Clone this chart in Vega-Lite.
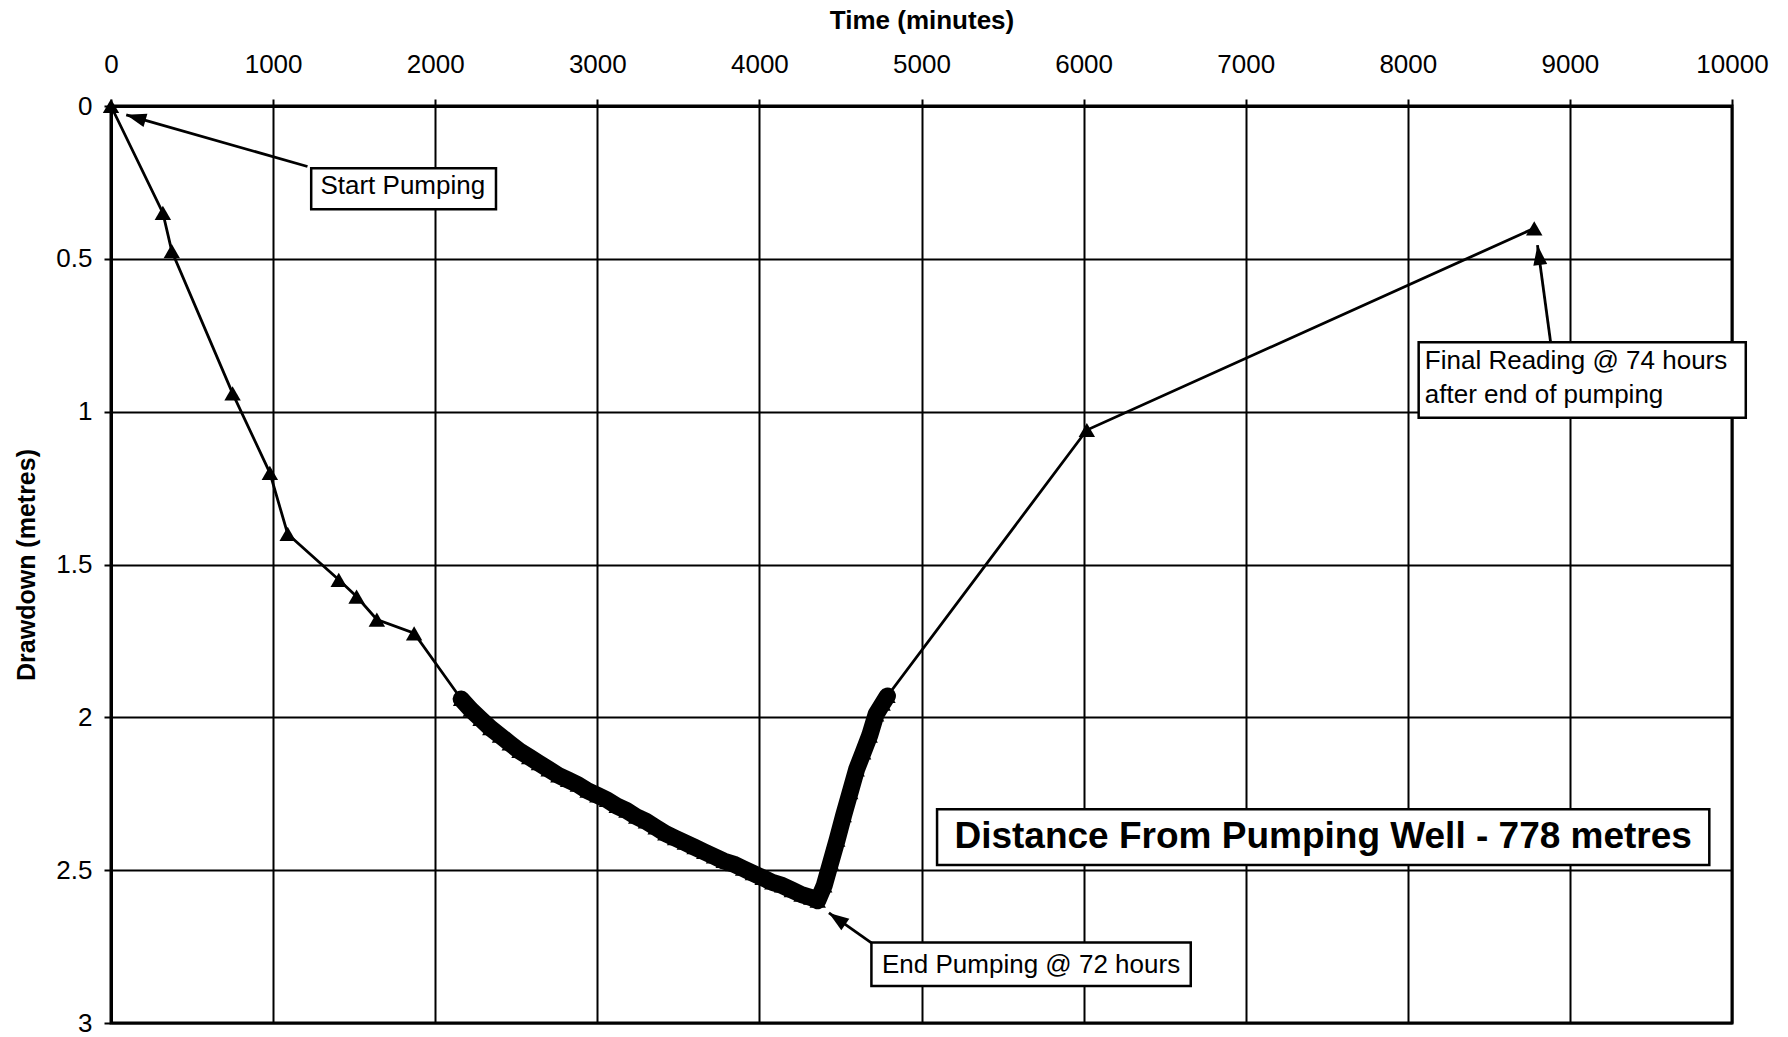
{
  "$schema": "https://vega.github.io/schema/vega-lite/v6.json",
  "width": 1621,
  "height": 917,
  "autosize": {"type": "none"},
  "padding": {"left": 111, "top": 106, "right": 56, "bottom": 14},
  "background": "white",
  "config": {
    "font": "Liberation Sans",
    "view": {"stroke": "black", "strokeWidth": 3},
    "axis": {
      "labelColor": "black",
      "labelFont": "Liberation Sans",
      "labelFontSize": 26,
      "labelFlush": false,
      "tickColor": "black",
      "tickSize": 7,
      "tickWidth": 2,
      "gridColor": "black",
      "gridWidth": 2,
      "gridOpacity": 1,
      "domainColor": "black",
      "domainWidth": 3,
      "titleColor": "black",
      "titleFont": "Liberation Sans",
      "titleFontWeight": "bold"
    }
  },
  "datasets": {
    "drawdown": [
      {"x": 0, "y": 0},
      {"x": 320, "y": 0.35},
      {"x": 375, "y": 0.475},
      {"x": 750, "y": 0.94},
      {"x": 980, "y": 1.2},
      {"x": 1090, "y": 1.4},
      {"x": 1405, "y": 1.55},
      {"x": 1515, "y": 1.605},
      {"x": 1640, "y": 1.68},
      {"x": 1870, "y": 1.725},
      {"x": 2160, "y": 1.94},
      {"x": 2220, "y": 1.975},
      {"x": 2280, "y": 2.005},
      {"x": 2340, "y": 2.035},
      {"x": 2400, "y": 2.06},
      {"x": 2460, "y": 2.085},
      {"x": 2520, "y": 2.11},
      {"x": 2580, "y": 2.13},
      {"x": 2640, "y": 2.15},
      {"x": 2700, "y": 2.17},
      {"x": 2760, "y": 2.19},
      {"x": 2820, "y": 2.205},
      {"x": 2880, "y": 2.22},
      {"x": 2940, "y": 2.24},
      {"x": 3000, "y": 2.255},
      {"x": 3060, "y": 2.27},
      {"x": 3120, "y": 2.29},
      {"x": 3180, "y": 2.305},
      {"x": 3240, "y": 2.325},
      {"x": 3300, "y": 2.34},
      {"x": 3360, "y": 2.36},
      {"x": 3420, "y": 2.38},
      {"x": 3480, "y": 2.395},
      {"x": 3540, "y": 2.41},
      {"x": 3600, "y": 2.425},
      {"x": 3660, "y": 2.44},
      {"x": 3720, "y": 2.455},
      {"x": 3780, "y": 2.47},
      {"x": 3840, "y": 2.48},
      {"x": 3900, "y": 2.495},
      {"x": 3960, "y": 2.51},
      {"x": 4020, "y": 2.525},
      {"x": 4080, "y": 2.54},
      {"x": 4140, "y": 2.55},
      {"x": 4200, "y": 2.565},
      {"x": 4260, "y": 2.58},
      {"x": 4320, "y": 2.59},
      {"x": 4360, "y": 2.6},
      {"x": 4400, "y": 2.55},
      {"x": 4440, "y": 2.475},
      {"x": 4480, "y": 2.4},
      {"x": 4520, "y": 2.32},
      {"x": 4560, "y": 2.245},
      {"x": 4600, "y": 2.17},
      {"x": 4640, "y": 2.115},
      {"x": 4680, "y": 2.06},
      {"x": 4720, "y": 1.99},
      {"x": 4760, "y": 1.955},
      {"x": 4790, "y": 1.93},
      {"x": 6020, "y": 1.06},
      {"x": 8780, "y": 0.4}
    ]
  },
  "layer": [
    {
      "data": {"name": "drawdown"},
      "mark": {"type": "line", "color": "black", "strokeWidth": 2.8},
      "encoding": {
        "x": {
          "field": "x", "type": "quantitative",
          "scale": {"domain": [0, 10000], "nice": false, "zero": false},
          "axis": {"orient": "top", "values": [0,1000,2000,3000,4000,5000,6000,7000,8000,9000,10000], "format": "d", "title": "Time (minutes)", "titleFontSize": 26, "labelPadding": 22, "titlePadding": 18}
        },
        "y": {
          "field": "y", "type": "quantitative",
          "scale": {"domain": [0, 3], "reverse": true, "nice": false, "zero": false},
          "axis": {"orient": "left", "values": [0,0.5,1,1.5,2,2.5,3], "format": "~g", "title": "Drawdown (metres)", "titleFontSize": 25, "labelPadding": 12, "titlePadding": 16}
        },
        "order": {"field": "x", "type": "quantitative"}
      }
    },
    {
      "data": {"name": "drawdown"},
      "transform": [{"filter": "datum.x >= 2160 && datum.x <= 4790"}],
      "mark": {"type": "line", "color": "black", "strokeWidth": 17, "strokeCap": "round", "strokeJoin": "round"},
      "encoding": {
        "x": {"field": "x", "type": "quantitative"},
        "y": {"field": "y", "type": "quantitative"},
        "order": {"field": "x", "type": "quantitative"}
      }
    },
    {
      "data": {"name": "drawdown"},
      "mark": {"type": "point", "shape": "triangle-up", "filled": true, "color": "black", "opacity": 1, "size": 270},
      "encoding": {
        "x": {"field": "x", "type": "quantitative"},
        "y": {"field": "y", "type": "quantitative"}
      }
    },
    {
      "data": {"values": [
        {"x": 1212, "y": 0.198, "x2": 94, "y2": 0.029},
        {"x": 8881, "y": 0.773, "x2": 8800, "y2": 0.455},
        {"x": 4691, "y": 2.738, "x2": 4429, "y2": 2.64}
      ]},
      "mark": {"type": "rule", "color": "black", "strokeWidth": 2.8},
      "encoding": {
        "x": {"field": "x", "type": "quantitative"},
        "y": {"field": "y", "type": "quantitative"},
        "x2": {"field": "x2"},
        "y2": {"field": "y2"}
      }
    },
    {
      "data": {"values": [{"x": 94, "y": 0.029}]},
      "mark": {"type": "point", "shape": "M0,0L-0.7,2L0.7,2Z", "filled": true, "color": "black", "opacity": 1, "size": 400, "angle": 286},
      "encoding": {"x": {"field": "x", "type": "quantitative"}, "y": {"field": "y", "type": "quantitative"}}
    },
    {
      "data": {"values": [{"x": 8800, "y": 0.455}]},
      "mark": {"type": "point", "shape": "M0,0L-0.7,2L0.7,2Z", "filled": true, "color": "black", "opacity": 1, "size": 400, "angle": 352},
      "encoding": {"x": {"field": "x", "type": "quantitative"}, "y": {"field": "y", "type": "quantitative"}}
    },
    {
      "data": {"values": [{"x": 4429, "y": 2.64}]},
      "mark": {"type": "point", "shape": "M0,0L-0.7,2L0.7,2Z", "filled": true, "color": "black", "opacity": 1, "size": 400, "angle": 305},
      "encoding": {"x": {"field": "x", "type": "quantitative"}, "y": {"field": "y", "type": "quantitative"}}
    },
    {
      "data": {"values": [
        {"x": 1235, "x2": 2375, "y": 0.204, "y2": 0.338},
        {"x": 8067, "x2": 10085, "y": 0.773, "y2": 1.02},
        {"x": 4691, "x2": 6661, "y": 2.737, "y2": 2.879},
        {"x": 5096, "x2": 9860, "y": 2.301, "y2": 2.483}
      ]},
      "mark": {"type": "rect", "fill": "white", "stroke": "black", "strokeWidth": 2.5},
      "encoding": {
        "x": {"field": "x", "type": "quantitative"},
        "x2": {"field": "x2"},
        "y": {"field": "y", "type": "quantitative"},
        "y2": {"field": "y2"}
      }
    },
    {
      "data": {"values": [
        {"x": 1800, "y": 0.263, "label": "Start Pumping"},
        {"x": 5676, "y": 2.81, "label": "End Pumping @ 72 hours"}
      ]},
      "mark": {"type": "text", "fontSize": 26, "color": "black", "align": "center", "baseline": "middle", "font": "Liberation Sans"},
      "encoding": {
        "x": {"field": "x", "type": "quantitative"},
        "y": {"field": "y", "type": "quantitative"},
        "text": {"field": "label"}
      }
    },
    {
      "data": {"values": [
        {"x": 8105, "y": 0.835, "label": "Final Reading @ 74 hours"},
        {"x": 8105, "y": 0.945, "label": "after end of pumping"}
      ]},
      "mark": {"type": "text", "fontSize": 26, "color": "black", "align": "left", "baseline": "middle", "font": "Liberation Sans"},
      "encoding": {
        "x": {"field": "x", "type": "quantitative"},
        "y": {"field": "y", "type": "quantitative"},
        "text": {"field": "label"}
      }
    },
    {
      "data": {"values": [
        {"x": 7478, "y": 2.392, "label": "Distance From Pumping Well - 778 metres"}
      ]},
      "mark": {"type": "text", "fontSize": 37, "fontWeight": "bold", "color": "black", "align": "center", "baseline": "middle", "font": "Liberation Sans"},
      "encoding": {
        "x": {"field": "x", "type": "quantitative"},
        "y": {"field": "y", "type": "quantitative"},
        "text": {"field": "label"}
      }
    }
  ]
}
